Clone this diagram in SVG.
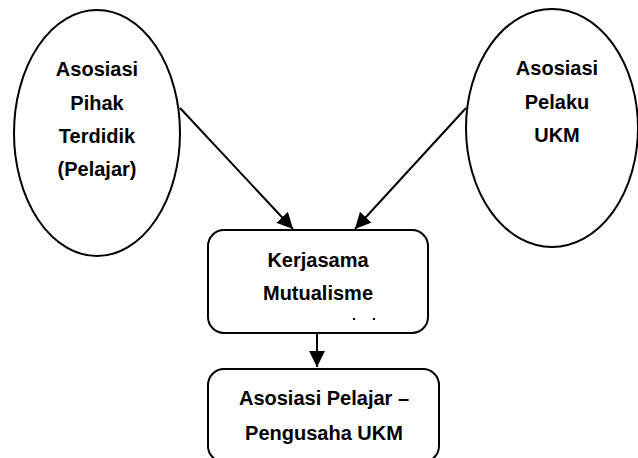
<svg xmlns="http://www.w3.org/2000/svg" width="638" height="458" viewBox="0 0 638 458">
<style>
.shape{fill:#fff;stroke:#000;stroke-width:2}
.lbl{font-family:"Liberation Sans",Arial,sans-serif;font-weight:bold;font-size:20px;fill:#000;text-anchor:middle}
.conn{stroke:#000;stroke-width:2;fill:none}
</style>
<defs>
<marker id="arr" markerUnits="userSpaceOnUse" markerWidth="16" markerHeight="16" viewBox="0 0 16 16" refX="16" refY="8" orient="auto">
<path d="M0,0 L16,8 L0,16 Z" fill="#000"/>
</marker>
</defs>
<rect width="638" height="458" fill="#fff"/>
<g id="node-pelajar">
<ellipse class="shape" cx="97" cy="133" rx="83" ry="123"/>
<text class="lbl" x="97" y="76">Asosiasi</text>
<text class="lbl" x="97" y="110">Pihak</text>
<text class="lbl" x="97" y="143">Terdidik</text>
<text class="lbl" x="97" y="176">(Pelajar)</text>
</g>
<g id="node-ukm">
<ellipse class="shape" cx="552" cy="128" rx="86" ry="119"/>
<text class="lbl" x="557" y="75">Asosiasi</text>
<text class="lbl" x="557" y="109">Pelaku</text>
<text class="lbl" x="557" y="142">UKM</text>
</g>
<g id="node-kerjasama">
<rect class="shape" x="208" y="230" width="220" height="103" rx="16"/>
<text class="lbl" x="318" y="267">Kerjasama</text>
<text class="lbl" x="318" y="300">Mutualisme</text>
<rect x="353" y="318" width="2" height="2" fill="#000"/>
<rect x="373" y="318" width="2" height="2" fill="#000"/>
</g>
<g id="node-asosiasi">
<rect class="shape" x="208" y="369" width="231" height="93" rx="16"/>
<text class="lbl" x="324" y="405">Asosiasi Pelajar –</text>
<text class="lbl" x="324" y="440">Pengusaha UKM</text>
</g>
<g id="connectors">
<line class="conn" x1="180" y1="108" x2="293" y2="229" marker-end="url(#arr)"/>
<line class="conn" x1="466" y1="108" x2="355" y2="229" marker-end="url(#arr)"/>
<line class="conn" x1="317" y1="333" x2="317" y2="367" marker-end="url(#arr)"/>
</g>
</svg>
